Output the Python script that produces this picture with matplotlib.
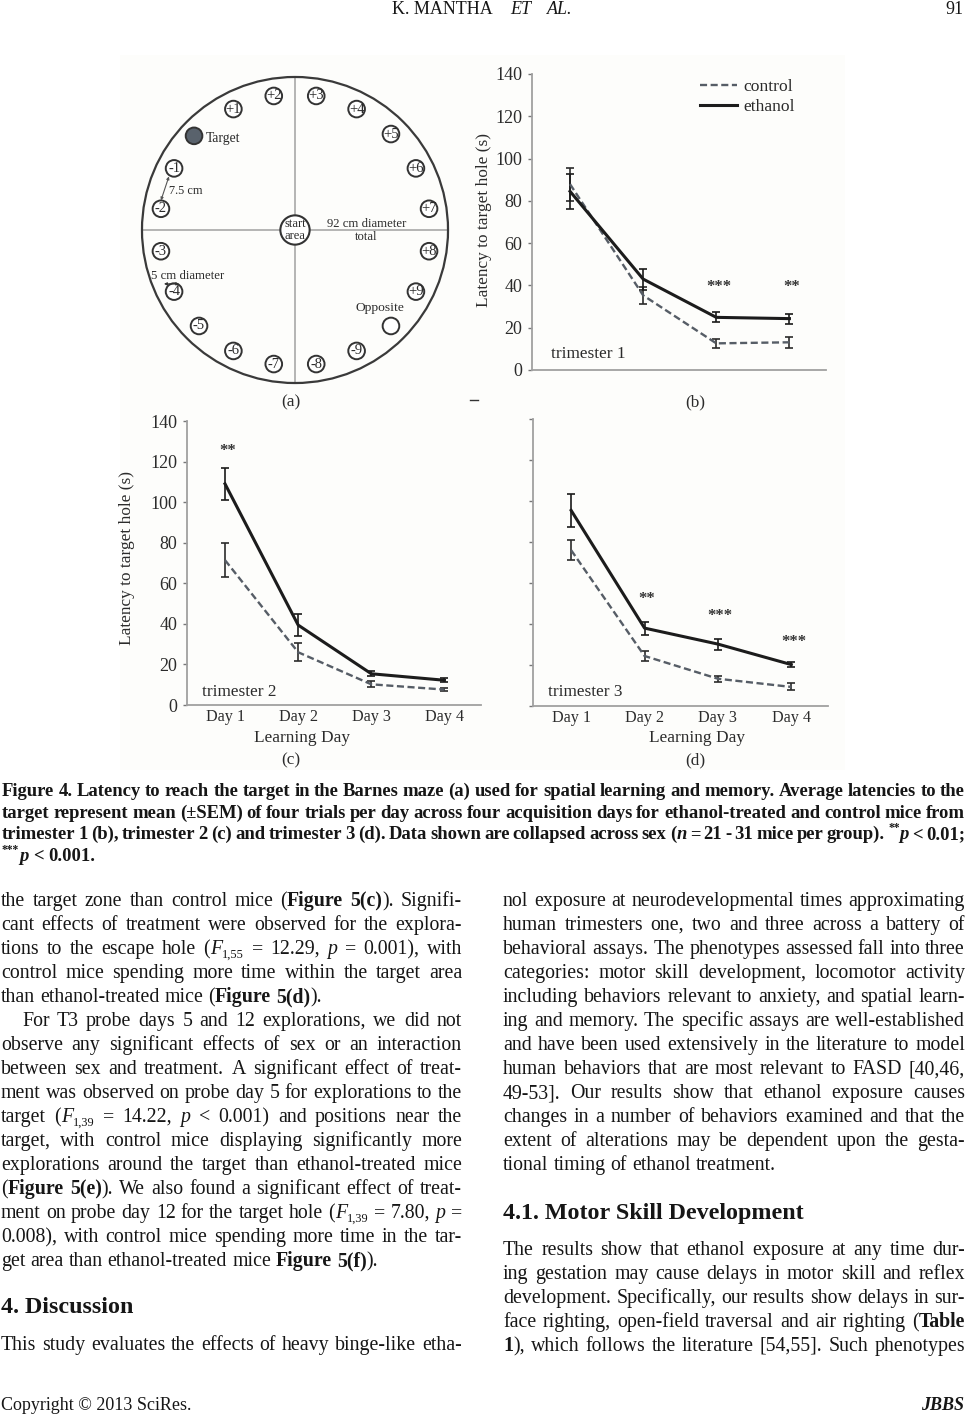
import re
import numpy as np
import matplotlib
matplotlib.use("Agg")
import matplotlib.pyplot as plt
from matplotlib.patches import Circle, Rectangle

W, H = 969, 1414
plt.rcParams['font.family'] = ['Liberation Serif', 'DejaVu Serif']

# ---------- data ----------
DAYS = ['Day 1', 'Day 2', 'Day 3', 'Day 4']
YTICKS = [0, 20, 40, 60, 80, 100, 120, 140]

b_control = [87.9, 35.3, 12.6, 13.1]
b_control_err = [7.8, 4.1, 2.2, 2.5]
b_ethanol = [84.5, 43.0, 24.9, 24.3]
b_ethanol_err = [8.4, 5.0, 2.3, 2.4]
b_stars = [(2, 40, '***'), (3, 40, '**')]

c_control = [71.4, 26.0, 10.2, 7.6]
c_control_err = [8.3, 4.4, 1.5, 0.7]
c_ethanol = [109.0, 39.4, 15.4, 12.2]
c_ethanol_err = [7.8, 5.5, 1.2, 0.9]
c_stars = [(0, 126, '**')]

d_control = [76.0, 24.4, 13.3, 9.3]
d_control_err = [5.0, 2.6, 1.4, 1.7]
d_ethanol = [95.4, 38.0, 30.2, 20.2]
d_ethanol_err = [7.9, 3.2, 2.7, 1.4]
d_stars = [(1, 53.3, '**'), (2, 45, '***'), (3, 32.4, '***')]

MAZE_DIAMETER_CM = 92
HOLE_DIAMETER_CM = 5
HOLE_RING_CM = 40.8
HOLE_LABELS = ['+3', '+4', '+5', '+6', '+7', '+8', '+9', '', '-9', '-8',
               '-7', '-6', '-5', '-4', '-3', '-2', '-1', 'T', '+1', '+2']
HOLE_ANGLES = [81, 63, 45, 27, 9, -9, -27, -45, -63, -81,
               -99, -117, -135, -153, -171, 171, 153, 137, 117, 99]

CAPTION = [
 "Figure 4. Latency to reach the target in the Barnes maze (a) used for spatial learning and memory. Average latencies to the",
 "target represent mean (±SEM) of four trials per day across four acquisition days for ethanol-treated and control mice from",
 "trimester 1 (b), trimester 2 (c) and trimester 3 (d). Data shown are collapsed across sex (<i>n</i> = 21 - 31 mice per group). <sup>**</sup><i>p</i> < 0.01;",
]
CAPTION_LAST = "<sup>***</sup><i>p</i> < 0.001."

LEFT_P1 = [
 "the target zone than control mice (<b>Figure 5(c)</b>). Signifi-",
 "cant effects of treatment were observed for the explora-",
 "tions to the escape hole (<i>F</i><sub>1,55</sub> = 12.29, <i>p</i> = 0.001), with",
 "control mice spending more time within the target area",
 "than ethanol-treated mice (<b>Figure 5(d)</b>).",
]
LEFT_P2 = [
 "For T3 probe days 5 and 12 explorations, we did not",
 "observe any significant effects of sex or an interaction",
 "between sex and treatment. A significant effect of treat-",
 "ment was observed on probe day 5 for explorations to the",
 "target (<i>F</i><sub>1,39</sub> = 14.22, <i>p</i> < 0.001) and positions near the",
 "target, with control mice displaying significantly more",
 "explorations around the target than ethanol-treated mice",
 "(<b>Figure 5(e)</b>). We also found a significant effect of treat-",
 "ment on probe day 12 for the target hole (<i>F</i><sub>1,39</sub> = 7.80, <i>p</i> =",
 "0.008), with control mice spending more time in the tar-",
 "get area than ethanol-treated mice <b>Figure 5(f)</b>).",
]
RIGHT_P1 = [
 "nol exposure at neurodevelopmental times approximating",
 "human trimesters one, two and three across a battery of",
 "behavioral assays. The phenotypes assessed fall into three",
 "categories: motor skill development, locomotor activity",
 "including behaviors relevant to anxiety, and spatial learn-",
 "ing and memory. The specific assays are well-established",
 "and have been used extensively in the literature to model",
 "human behaviors that are most relevant to FASD [40,46,",
 "49-53]. Our results show that ethanol exposure causes",
 "changes in a number of behaviors examined and that the",
 "extent of alterations may be dependent upon the gesta-",
 "tional timing of ethanol treatment.",
]
RIGHT_P2 = [
 "The results show that ethanol exposure at any time dur-",
 "ing gestation may cause delays in motor skill and reflex",
 "development. Specifically, our results show delays in sur-",
 "face righting, open-field traversal and air righting (<b>Table</b>",
 "<b>1</b>), which follows the literature [54,55]. Such phenotypes",
]

# ---------- helpers ----------
fig = plt.figure(figsize=(W / 100, H / 100), dpi=100, facecolor='white')
renderer = fig.canvas.get_renderer()
TXT = '#161616'
FIGTXT = '#2b2b2b'


def px_text(x, y, s, **kw):
    kw.setdefault('color', TXT)
    return fig.text(x / W, 1 - y / H, s, **kw)


def axes_px(left, top, right, bottom):
    return fig.add_axes([left / W, 1 - bottom / H, (right - left) / W, (bottom - top) / H])


def parse_words(s):
    words, cur, style = [], [], ''
    for part in re.split(r'(</?(?:b|i|sub|sup)>)', s):
        if re.fullmatch(r'</(?:b|i|sub|sup)>', part):
            style = ''
        elif re.fullmatch(r'<(?:b|i|sub|sup)>', part):
            style = part[1:-1]
        else:
            pieces = part.split(' ')
            for k, piece in enumerate(pieces):
                if k > 0 and cur:
                    words.append(cur)
                    cur = []
                if piece:
                    cur.append((piece, style))
    if cur:
        words.append(cur)
    return words


def run_kwargs(style, size, base_bold):
    kw = {'fontsize': size, 'fontweight': 'bold' if base_bold or style == 'b' else 'normal',
          'fontstyle': 'italic' if style == 'i' else 'normal'}
    if style in ('sub', 'sup'):
        kw['fontsize'] = size * 0.62
    return kw


def run_width(txt, style, size, base_bold):
    t = px_text(0, 0, txt, **run_kwargs(style, size, base_bold))
    # measure the advance with a bracketing glyph so that side bearings count
    t.set_text('|' + txt + '|')
    w = t.get_window_extent(renderer).width
    t.set_text('||')
    w -= t.get_window_extent(renderer).width
    t.remove()
    return w


def set_line(x0, x1, y, s, size, justify=True, base_bold=False, space=0.25):
    words = parse_words(s)
    widths = [[run_width(r[0], r[1], size, base_bold) for r in w] for w in words]
    total = sum(sum(w) for w in widths)
    em = size * 100 / 72
    gap = (x1 - x0 - total) / (len(words) - 1) if justify and len(words) > 1 else space * em
    x = x0
    for w, ws in zip(words, widths):
        for (txt, style), rw in zip(w, ws):
            dy = {'sub': 0.17 * em, 'sup': -0.42 * em}.get(style, 0)
            px_text(x, y + dy, txt, va='baseline', ha='left', **run_kwargs(style, size, base_bold))
            x += rw
        x += gap


BODY = 14.35
LINE = 24


def paragraph(lines, x0, x1, y, indent=0):
    for k, s in enumerate(lines):
        last = k == len(lines) - 1
        set_line(x0 + (indent if k == 0 else 0), x1, y + k * LINE, s, BODY, justify=not last)


def line_panel(ax, control, control_err, ethanol, ethanol_err, stars, labelled=True, xlabels=False):
    x = np.arange(len(control))
    dash = (0, (3.0, 1.5))
    ax.errorbar(x, control, yerr=control_err, fmt='none', ecolor='#2b2b2b', elinewidth=1.2,
                capsize=2.6, capthick=1.2, zorder=3)
    ax.errorbar(x, ethanol, yerr=ethanol_err, fmt='none', ecolor='#1a1a1a', elinewidth=1.2,
                capsize=2.6, capthick=1.2, zorder=3)
    ax.plot(x, control, color='#565d66', lw=1.7, ls=dash, zorder=4, label='control')
    ax.plot(x, ethanol, color='#1c1c1c', lw=2.2, zorder=5, label='ethanol')
    for sx, sy, st in stars:
        ax.text(sx + 0.03, sy, st, ha='center', va='center_baseline', fontsize=12, fontweight='bold',
                color='#333333')
    ax.set_ylim(0, 140)
    ax.set_yticks(YTICKS)
    ax.set_yticklabels([str(v) for v in YTICKS] if labelled else [])
    ax.set_xlim(-0.52, 3.5)
    ax.set_xticks(x)
    ax.set_xticklabels(DAYS if xlabels else [])
    ax.tick_params(axis='x', length=0, pad=3, labelsize=11.6, labelcolor=FIGTXT)
    ax.tick_params(axis='y', length=3, width=1, color='#777777', pad=4, labelsize=13, labelcolor=FIGTXT)
    for sp in ('top', 'right'):
        ax.spines[sp].set_visible(False)
    for sp in ('left', 'bottom'):
        ax.spines[sp].set_color('#a0a0a0')
        ax.spines[sp].set_linewidth(1.3)
    ax.patch.set_alpha(0)


# ---------- page background of the scanned figure ----------
fig.add_artist(Rectangle((120 / W, 1 - 770 / H), 725 / W, 715 / H, transform=fig.transFigure,
                         facecolor='#fdfdfb', edgecolor='none', zorder=-5))

# ---------- panel (a) ----------
R = MAZE_DIAMETER_CM / 2
ax = axes_px(295 - 160, 230 - 160, 295 + 160, 230 + 160)
ax.set_xlim(-48.1, 48.1)
ax.set_ylim(-48.1, 48.1)
ax.axis('off')
ax.plot([-R, R], [0, 0], color='#a8a8a8', lw=1.2, zorder=1)
ax.plot([0, 0], [-R, R], color='#a8a8a8', lw=1.2, zorder=1)
ax.add_patch(Circle((0, 0), R, fill=False, edgecolor='#3a3a3a', lw=1.6, zorder=2))
ax.add_patch(Circle((0, 0), 4.4, facecolor='white', edgecolor='#333333', lw=1.5, zorder=3))
ax.text(0, 1.75, 'start', ha='center', va='center', fontsize=9.0, color=FIGTXT, zorder=4)
ax.text(0, -1.95, 'area', ha='center', va='center', fontsize=9.0, color=FIGTXT, zorder=4)
for lab, ang in zip(HOLE_LABELS, HOLE_ANGLES):
    ring = HOLE_RING_CM + (0.7 if lab == 'T' else 0)
    hx = ring * np.cos(np.radians(ang))
    hy = ring * np.sin(np.radians(ang))
    target = lab == 'T'
    ax.add_patch(Circle((hx, hy), HOLE_DIAMETER_CM / 2, facecolor='#59626c' if target else 'white',
                        edgecolor='#333333', lw=1.4, zorder=3))
    if lab and not target:
        ax.text(hx, hy, lab, ha='center', va='center', fontsize=10.5, color=FIGTXT, zorder=4)
ax.text(-26.8, 27.4, 'Target', ha='left', va='center', fontsize=9.8, color=FIGTXT)
ax.text(-37.9, 11.8, '7.5 cm', ha='left', va='center', fontsize=8.8, color=FIGTXT)
ax.text(21.5, 1.8, '92 cm diameter', ha='center', va='center', fontsize=9.2, color=FIGTXT)
ax.text(21.5, -2.2, 'total', ha='center', va='center', fontsize=9.2, color=FIGTXT)
ax.text(-43.4, -13.9, '5 cm diameter', ha='left', va='center', fontsize=9.2, color=FIGTXT)
ax.text(25.6, -23.5, 'Opposite', ha='center', va='center', fontsize=9.7, color=FIGTXT)
ax.annotate('', xy=(-40.3, 8.9), xytext=(-37.9, 16.1),
            arrowprops=dict(arrowstyle='<|-|>', color='#555555', lw=0.8, mutation_scale=4, shrinkA=0, shrinkB=0))
ax.annotate('', xy=(-39.4, -16.2), xytext=(-34.8, -16.2),
            arrowprops=dict(arrowstyle='<|-|>', color='#333333', lw=0.8, mutation_scale=4, shrinkA=0, shrinkB=0))

# ---------- panels (b), (c), (d) ----------
ax_b = axes_px(532, 74, 826, 370)
line_panel(ax_b, b_control, b_control_err, b_ethanol, b_ethanol_err, b_stars)
ax_b.set_xlim(-0.52, 3.5)
ax_b.legend(loc='upper left', bbox_to_anchor=(0.572, 0.985), frameon=False, fontsize=12.6, labelcolor=FIGTXT,
            handlelength=2.1, handletextpad=0.35, labelspacing=0.25, borderpad=0, borderaxespad=0)

ax_c = axes_px(187, 421, 481, 705)
line_panel(ax_c, c_control, c_control_err, c_ethanol, c_ethanol_err, c_stars, xlabels=True)

ax_d = axes_px(533, 419, 828, 706)
line_panel(ax_d, d_control, d_control_err, d_ethanol, d_ethanol_err, d_stars, labelled=False, xlabels=True)

sp = dict(fontsize=12.4, color=FIGTXT)
px_text(484, 220, 'Latency to target hole (s)', rotation=90, ha='center', va='center', **sp)
px_text(127, 558, 'Latency to target hole (s)', rotation=90, ha='center', va='center', **sp)
px_text(551, 358, 'trimester 1', ha='left', va='baseline', **sp)
px_text(202, 696, 'trimester 2', ha='left', va='baseline', **sp)
px_text(548, 696, 'trimester 3', ha='left', va='baseline', **sp)
px_text(302, 738, 'Learning Day', ha='center', va='center', **sp)
px_text(697, 738, 'Learning Day', ha='center', va='center', **sp)
px_text(291, 402, '(a)', ha='center', va='center', **sp)
px_text(695, 402, '(b)', ha='center', va='center', **sp)
px_text(291, 760, '(c)', ha='center', va='center', **sp)
px_text(695, 760, '(d)', ha='center', va='center', **sp)

# ---------- page text ----------
px_text(392, 14, 'K. MANTHA', ha='left', va='baseline', fontsize=13)
px_text(510, 14, 'ET', ha='left', va='baseline', fontsize=13, fontstyle='italic')
px_text(547, 14, 'AL.', ha='left', va='baseline', fontsize=13, fontstyle='italic')
px_text(964, 14, '91', ha='right', va='baseline', fontsize=13)

CAP_SIZE = 13.4
for k, s in enumerate(CAPTION):
    set_line(2, 965, 796 + k * 21.6, s, CAP_SIZE, justify=True, base_bold=True)
set_line(2, 965, 796 + 3 * 21.6, CAPTION_LAST, CAP_SIZE, justify=False, base_bold=True)

paragraph(LEFT_P1, 1, 462, 906)
paragraph(LEFT_P2, 1, 462, 906 + 5 * LINE, indent=21)
px_text(1, 1313, '4. Discussion', ha='left', va='baseline', fontsize=17.3, fontweight='bold')
set_line(1, 462, 1350, 'This study evaluates the effects of heavy binge-like etha-', BODY)

paragraph(RIGHT_P1, 503, 965, 906)
px_text(503, 1219, '4.1. Motor Skill Development', ha='left', va='baseline', fontsize=17.3, fontweight='bold')
for k, s in enumerate(RIGHT_P2):
    set_line(503, 965, 1255 + k * LINE, s, BODY)

px_text(1, 1410, 'Copyright © 2013 SciRes.', ha='left', va='baseline', fontsize=13)
px_text(964, 1410, 'JBBS', ha='right', va='baseline', fontsize=13, fontweight='bold', fontstyle='italic')

fig.add_artist(plt.Line2D([470 / W, 478 / W], [1 - 400 / H, 1 - 400 / H], color='#333333', lw=1))

fig.savefig('out.png', dpi=100)
